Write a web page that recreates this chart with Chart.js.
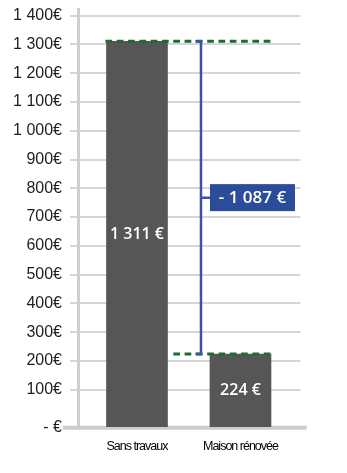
<!DOCTYPE html>
<html><head><meta charset="utf-8">
<script src="https://cdn.jsdelivr.net/npm/chart.js@4/dist/chart.umd.min.js"></script>
<style>html,body{margin:0;padding:0;background:#fff;}</style>
</head><body>
<canvas id="c" width="347" height="473"></canvas>
<script>
const categories = ['Sans travaux', 'Maison rénovée'];
const costValues = [1311, 224];
const yTickValues = [-32, 100, 200, 300, 400, 500, 600, 700, 800, 900, 1000, 1100, 1200, 1300, 1400];
const yTickLabels = ['- €', '100€', '200€', '300€', '400€', '500€', '600€', '700€', '800€', '900€', '1 000€', '1 100€', '1 200€', '1 300€', '1 400€'];

function fmtEuro(v){
  const s = Math.abs(v).toString().replace(/\B(?=(\d{3})+(?!\d))/g, ' ');
  return (v < 0 ? '- ' : '') + s + ' €';
}

const annot = {
  id: 'annot',
  beforeDatasetsDraw(chart){
    const {ctx, chartArea: a} = chart;
    ctx.save();
    ctx.strokeStyle = '#cccccc'; ctx.lineWidth = 4;
    ctx.beginPath(); ctx.moveTo(a.left - 15, a.bottom); ctx.lineTo(a.right + 6, a.bottom); ctx.stroke();
    ctx.restore();
  },
  afterDatasetsDraw(chart){
    const {ctx} = chart; const y = chart.scales.y;
    const bars = chart.getDatasetMeta(0).data;
    const b0 = bars[0], b1 = bars[1];
    const l0 = b0.x - b0.width/2, r0 = b0.x + b0.width/2, l1 = b1.x - b1.width/2, r1 = b1.x + b1.width/2;
    ctx.save();
    ctx.fillStyle = '#ffffff'; ctx.font = '600 16px "Open Sans"';
    ctx.textAlign = 'center'; ctx.textBaseline = 'middle';
    bars.forEach((b, i) => ctx.fillText(fmtEuro(costValues[i]), b.x, (b.y + b.base)/2));
    const yTop = y.getPixelForValue(costValues[0]);
    const yBot = y.getPixelForValue(costValues[1]);
    const yMid = y.getPixelForValue((costValues[0] + costValues[1]) / 2);
    ctx.strokeStyle = '#1d6b36'; ctx.lineWidth = 3; ctx.setLineDash([6.7, 4.6]);
    ctx.beginPath(); ctx.moveTo(l0 - 1, yTop); ctx.lineTo(r1, yTop); ctx.stroke();
    ctx.save();
    ctx.beginPath(); ctx.rect(r0 + 4, 0, chart.width, chart.height); ctx.clip();
    ctx.beginPath(); ctx.moveTo(l0 - 1, yBot); ctx.lineTo(r1, yBot); ctx.stroke();
    ctx.restore();
    ctx.setLineDash([]);
    const bx = l1 - 9;
    ctx.strokeStyle = '#3b53a5'; ctx.lineWidth = 2.5;
    ctx.beginPath();
    ctx.moveTo(bx - 5.5, yTop); ctx.lineTo(bx, yTop); ctx.lineTo(bx, yBot); ctx.lineTo(bx - 5.5, yBot);
    ctx.moveTo(bx, yMid); ctx.lineTo(l1, yMid);
    ctx.stroke();
    ctx.fillStyle = '#2b4c9b';
    ctx.fillRect(l1, yMid - 13.5, 85, 27);
    ctx.fillStyle = '#ffffff'; ctx.font = '600 17px "Open Sans"';
    ctx.fillText(fmtEuro(costValues[1] - costValues[0]), l1 + 42.5, yMid + 0.5);
    ctx.restore();
    ctx.letterSpacing = '-1px';
  },
  afterDraw(chart){
    chart.ctx.letterSpacing = '0px';
  }
};

new Chart(document.getElementById('c'), {
  type: 'bar',
  data: {
    datasets: [{
      data: costValues.map((v, i) => ({x: i, y: v})),
      backgroundColor: '#565656',
      barThickness: 61,
      base: yTickValues[0]
    }]
  },
  options: {
    responsive: false, animation: false, devicePixelRatio: 1,
    layout: {padding: {top: 9, left: 0, right: 46.5, bottom: 19.3}},
    plugins: {legend: {display: false}, tooltip: {enabled: false}},
    scales: {
      x: {
        type: 'linear', min: -0.57, max: 1.58, offset: false,
        grid: {display: false, drawTicks: false, offset: false},
        border: {display: false},
        afterBuildTicks: s => { s.ticks = categories.map((_, i) => ({value: i})); },
        afterFit: s => { s.height = 26; s.paddingLeft = 0; s.paddingRight = 0; },
        ticks: {
          z: 1,
          padding: 11.5, color: '#000000', maxRotation: 0, autoSkip: false,
          font: {family: '"Liberation Sans", Arial, sans-serif', size: 12.5},
          callback: v => categories[v]
        }
      },
      y: {
        min: yTickValues[0], max: 1423,
        afterBuildTicks: s => { s.ticks = yTickValues.map(v => ({value: v})); },
        afterFit: s => { s.width = 78; s.paddingTop = 0; s.paddingBottom = 0; },
        grid: {
          color: ctx => ctx.tick && ctx.tick.value === yTickValues[0] ? 'rgba(0,0,0,0)' : '#d6d6d6',
          lineWidth: 2, tickLength: 8, drawTicks: true
        },
        border: {display: true, color: '#cfcfcf', width: 3},
        ticks: {
          padding: 8, color: '#1e1e1e', autoSkip: false,
          font: {family: '"Liberation Sans", Arial, sans-serif', size: 16},
          callback: (v, i) => yTickLabels[i]
        }
      }
    }
  },
  plugins: [annot]
});
</script>
</body></html>
